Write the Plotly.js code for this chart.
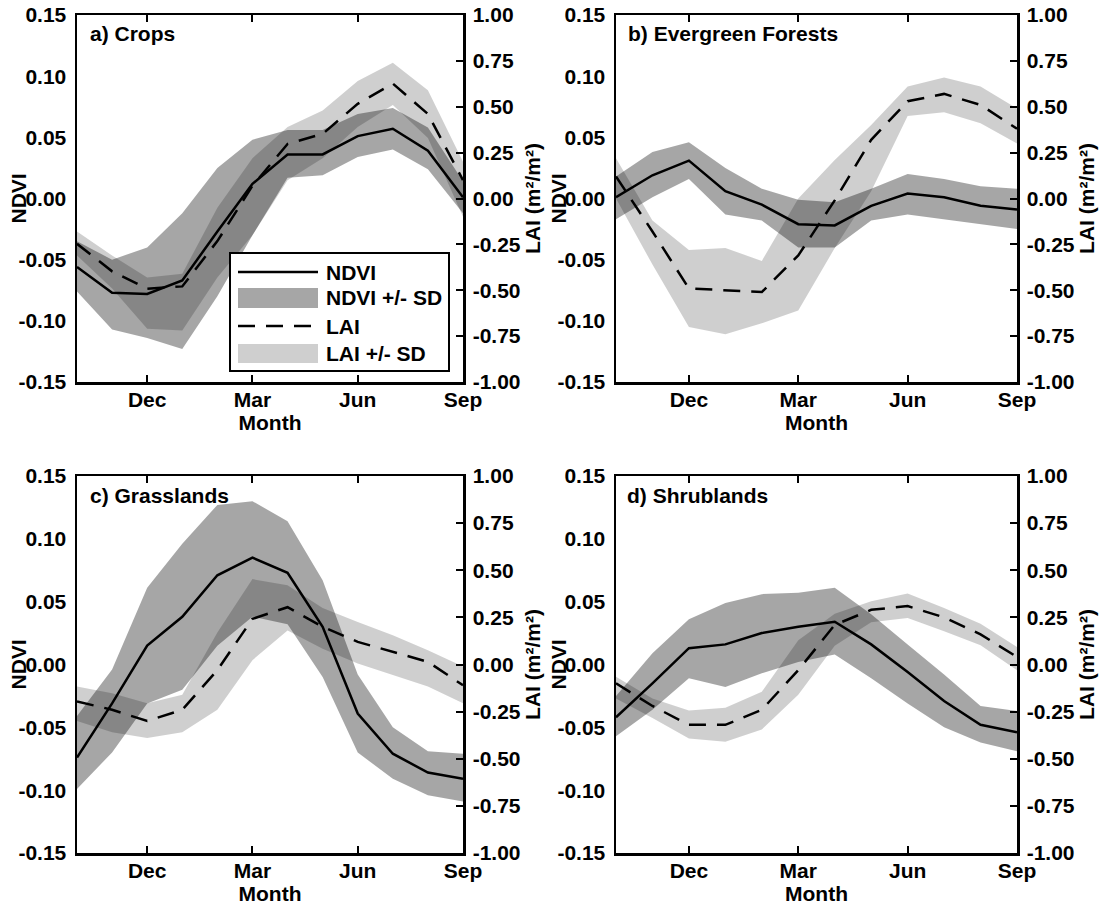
<!DOCTYPE html>
<html>
<head>
<meta charset="utf-8">
<script src="https://cdn.plot.ly/plotly-3.0.1.min.js"></script>
<style>
html,body{margin:0;padding:0;background:#ffffff;}
#chart{width:1103px;height:911px;}
</style>
</head>
<body>
<div id="chart"></div>
<script>
// ---------- data ----------
const months = ['Oct','Nov','Dec','Jan','Feb','Mar','Apr','May','Jun','Jul','Aug','Sep'];
const monthTicks = ['Dec','Mar','Jun','Sep'];
const ndviTickVals = [-0.15,-0.10,-0.05,0.00,0.05,0.10,0.15];
const ndviTickText = ['-0.15','-0.10','-0.05','0.00','0.05','0.10','0.15'];
const laiTickVals = [-1.00,-0.75,-0.50,-0.25,0.00,0.25,0.50,0.75,1.00];
const laiTickText = ['-1.00','-0.75','-0.50','-0.25','0.00','0.25','0.50','0.75','1.00'];
const panelTitles = ['a) Crops','b) Evergreen Forests','c) Grasslands','d) Shrublands'];
const legendLabels = ['NDVI','NDVI +/- SD','LAI','LAI +/- SD'];
const xTitle = 'Month';
const ndviTitle = 'NDVI';
const laiTitle = 'LAI (m²/m²)';

// a) Crops
const cropsNdvi   = [-0.056,-0.077,-0.078,-0.067,-0.027,0.012,0.036,0.036,0.051,0.057,0.039,0.001];
const cropsNdviUp = [-0.035,-0.050,-0.040,-0.012,0.025,0.048,0.056,0.056,0.069,0.074,0.058,0.014];
const cropsNdviLo = [-0.076,-0.107,-0.114,-0.123,-0.080,-0.030,0.017,0.019,0.034,0.040,0.024,-0.012];
const cropsLai    = [-0.247,-0.397,-0.492,-0.479,-0.232,0.069,0.297,0.352,0.516,0.626,0.461,0.100];
const cropsLaiUp  = [-0.18,-0.31,-0.43,-0.41,-0.05,0.22,0.39,0.48,0.64,0.74,0.59,0.20];
const cropsLaiLo  = [-0.31,-0.49,-0.71,-0.72,-0.43,-0.20,0.10,0.22,0.39,0.51,0.33,-0.10];

// b) Evergreen Forests
const everNdvi   = [0.001,0.019,0.031,0.006,-0.005,-0.021,-0.022,-0.006,0.004,0.001,-0.006,-0.009];
const everNdviUp = [0.018,0.038,0.046,0.025,0.008,-0.001,-0.003,0.008,0.020,0.016,0.010,0.008];
const everNdviLo = [-0.017,0.001,0.016,-0.013,-0.018,-0.040,-0.040,-0.018,-0.013,-0.017,-0.021,-0.025];
const everLai    = [0.12,-0.18,-0.49,-0.50,-0.51,-0.31,-0.01,0.32,0.53,0.57,0.51,0.38];
const everLaiUp  = [0.22,-0.12,-0.28,-0.27,-0.34,0.00,0.21,0.40,0.61,0.66,0.61,0.49];
const everLaiLo  = [0.00,-0.36,-0.70,-0.74,-0.68,-0.61,-0.27,0.04,0.45,0.47,0.41,0.30];

// c) Grasslands
const grassNdvi   = [-0.074,-0.031,0.015,0.038,0.071,0.085,0.073,0.030,-0.039,-0.071,-0.086,-0.091];
const grassNdviUp = [-0.041,-0.004,0.061,0.096,0.127,0.130,0.114,0.067,-0.008,-0.050,-0.069,-0.071];
const grassNdviLo = [-0.099,-0.070,-0.031,-0.020,0.015,0.038,0.032,-0.010,-0.070,-0.091,-0.104,-0.109];
const grassLai    = [-0.196,-0.24,-0.30,-0.24,-0.03,0.242,0.304,0.20,0.12,0.067,0.014,-0.11];
const grassLaiUp  = [-0.117,-0.152,-0.205,-0.16,0.17,0.453,0.42,0.30,0.225,0.155,0.076,-0.01];
const grassLaiLo  = [-0.30,-0.36,-0.39,-0.36,-0.24,0.023,0.18,0.084,0.005,-0.056,-0.117,-0.205];

// d) Shrublands
const shrubNdvi   = [-0.042,-0.015,0.013,0.016,0.025,0.030,0.034,0.016,-0.006,-0.029,-0.048,-0.054];
const shrubNdviUp = [-0.025,0.009,0.036,0.049,0.056,0.057,0.061,0.040,0.016,-0.008,-0.033,-0.037];
const shrubNdviLo = [-0.057,-0.036,-0.011,-0.018,-0.007,0.002,0.008,-0.011,-0.031,-0.050,-0.062,-0.069];
const shrubLai    = [-0.10,-0.22,-0.32,-0.32,-0.24,-0.03,0.21,0.29,0.31,0.25,0.16,0.04];
const shrubLaiUp  = [-0.065,-0.18,-0.244,-0.23,-0.144,0.128,0.269,0.335,0.377,0.30,0.216,0.093];
const shrubLaiLo  = [-0.18,-0.284,-0.393,-0.41,-0.345,-0.16,0.10,0.224,0.247,0.177,0.102,-0.03];

// ---------- layout helpers ----------
const W = 1103, H = 911;
const ML = 77, MR = 1103 - 1017, MT = 15, MB = 911 - 853;
const PW = W - ML - MR, PH = H - MT - MB;
const px2x = px => (px - ML) / PW;
const py2y = py => (H - MB - py) / PH;

const ndviFill = 'rgba(0,0,0,0.35)';
const laiFill = 'rgba(0,0,0,0.19)';
const dashStyle = '17px,11px';
const FONT = {family: 'Liberation Sans, Arial, Helvetica, sans-serif', size: 21, color: '#000', weight: 'bold'};

const panels = [
  {ndvi: cropsNdvi, ndviUp: cropsNdviUp, ndviLo: cropsNdviLo, lai: cropsLai, laiUp: cropsLaiUp, laiLo: cropsLaiLo,
   left: 77, right: 463, top: 15, bottom: 382, tx: 88, ty: 33, ndviX: 18},
  {ndvi: everNdvi, ndviUp: everNdviUp, ndviLo: everNdviLo, lai: everLai, laiUp: everLaiUp, laiLo: everLaiLo,
   left: 616, right: 1017, top: 15, bottom: 382, tx: 626, ty: 33, ndviX: 558},
  {ndvi: grassNdvi, ndviUp: grassNdviUp, ndviLo: grassNdviLo, lai: grassLai, laiUp: grassLaiUp, laiLo: grassLaiLo,
   left: 77, right: 463, top: 476, bottom: 853, tx: 88, ty: 495, ndviX: 18},
  {ndvi: shrubNdvi, ndviUp: shrubNdviUp, ndviLo: shrubNdviLo, lai: shrubLai, laiUp: shrubLaiUp, laiLo: shrubLaiLo,
   left: 616, right: 1017, top: 476, bottom: 853, tx: 625, ty: 495, ndviX: 558}
];

const traces = [];
const layout = {
  width: W, height: H,
  margin: {l: ML, r: MR, t: MT, b: MB, pad: 0},
  paper_bgcolor: '#ffffff', plot_bgcolor: 'rgba(0,0,0,0)',
  font: FONT,
  showlegend: false,
  hovermode: false,
  annotations: [],
  shapes: []
};

const loop = months.concat(months.slice().reverse());

panels.forEach((p, i) => {
  const xn = i === 0 ? '' : String(i + 1);
  const xId = 'x' + xn;
  const yIds = [1, 2, 3, 4].map(k => 4 * i + k);
  const yName = n => (n === 1 ? 'y' : 'y' + n);
  const mainY = yName(yIds[0]);

  // bands first, lines on overlays above them
  traces.push({x: loop, y: p.ndviUp.concat(p.ndviLo.slice().reverse()), xaxis: xId, yaxis: yName(yIds[0]),
    type: 'scatter', mode: 'lines', fill: 'toself', fillcolor: ndviFill, line: {width: 0, color: ndviFill}, name: legendLabels[1]});
  traces.push({x: loop, y: p.laiUp.concat(p.laiLo.slice().reverse()), xaxis: xId, yaxis: yName(yIds[1]),
    type: 'scatter', mode: 'lines', fill: 'toself', fillcolor: laiFill, line: {width: 0, color: laiFill}, name: legendLabels[3]});
  traces.push({x: months, y: p.ndvi, xaxis: xId, yaxis: yName(yIds[2]),
    type: 'scatter', mode: 'lines', line: {color: '#000', width: 2.5}, name: legendLabels[0]});
  traces.push({x: months, y: p.lai, xaxis: xId, yaxis: yName(yIds[3]),
    type: 'scatter', mode: 'lines', line: {color: '#000', width: 2.5, dash: dashStyle}, name: legendLabels[2]});

  layout['xaxis' + xn] = {
    domain: [px2x(p.left), px2x(p.right)], anchor: mainY,
    type: 'category', categoryarray: months, range: [0, months.length - 1],
    tickmode: 'array', tickvals: monthTicks, ticktext: monthTicks,
    ticks: 'inside', ticklen: 7, tickwidth: 2, tickcolor: '#000',
    showline: true, linewidth: 2.5, linecolor: '#000', mirror: 'ticks',
    showgrid: false, zeroline: false, fixedrange: true,
    tickfont: FONT, ticklabelstandoff: -3,
    title: {text: xTitle, font: FONT, standoff: 4}
  };
  layout['yaxis' + (yIds[0] === 1 ? '' : yIds[0])] = {
    domain: [py2y(p.bottom), py2y(p.top)], anchor: xId,
    range: [-0.15, 0.15], tickmode: 'array', tickvals: ndviTickVals, ticktext: ndviTickText,
    ticks: '', showline: true, linewidth: 2.5, linecolor: '#000', mirror: false,
    showgrid: false, zeroline: false, fixedrange: true,
    tickfont: FONT, ticklabelstandoff: 4
  };
  layout['yaxis' + yIds[1]] = {
    overlaying: mainY, anchor: xId, side: 'right',
    range: [-1, 1], tickmode: 'array', tickvals: laiTickVals, ticktext: laiTickText,
    ticks: 'inside', ticklen: 7, tickwidth: 2, tickcolor: '#000',
    showline: true, linewidth: 2.5, linecolor: '#000', mirror: false,
    showgrid: false, zeroline: false, fixedrange: true,
    tickfont: FONT, ticklabelstandoff: 3,
    title: {text: laiTitle, font: FONT, standoff: 0}
  };
  layout['yaxis' + yIds[2]] = {overlaying: mainY, anchor: xId, range: [-0.15, 0.15], visible: false,
    showticklabels: false, fixedrange: true};
  layout['yaxis' + yIds[3]] = {overlaying: mainY, anchor: xId, range: [-1, 1], visible: false,
    showticklabels: false, fixedrange: true};

  // panel label
  layout.annotations.push({text: panelTitles[i], xref: 'paper', yref: 'paper', x: px2x(p.tx), y: py2y(p.ty),
    xanchor: 'left', yanchor: 'middle', showarrow: false, font: FONT});
  // NDVI axis title, tight against the tick labels as in the reference
  layout.annotations.push({text: ndviTitle, xref: 'paper', yref: 'paper', x: px2x(p.ndviX), y: py2y((p.top + p.bottom) / 2),
    xanchor: 'center', yanchor: 'middle', textangle: -90, showarrow: false, font: FONT});
});

// ---------- legend (panel a) ----------
const LX0 = 238, LX1 = 318;
layout.shapes.push({type: 'rect', xref: 'paper', yref: 'paper', layer: 'above',
  x0: px2x(230), x1: px2x(449), y0: py2y(371), y1: py2y(253),
  fillcolor: '#ffffff', line: {color: '#000', width: 2}});
layout.shapes.push({type: 'line', xref: 'paper', yref: 'paper', layer: 'above',
  x0: px2x(LX0), x1: px2x(LX1), y0: py2y(272), y1: py2y(272), line: {color: '#000', width: 2.5}});
layout.shapes.push({type: 'rect', xref: 'paper', yref: 'paper', layer: 'above',
  x0: px2x(LX0), x1: px2x(LX1), y0: py2y(308), y1: py2y(288), fillcolor: ndviFill, line: {width: 0}});
layout.shapes.push({type: 'line', xref: 'paper', yref: 'paper', layer: 'above',
  x0: px2x(LX0), x1: px2x(LX1), y0: py2y(326), y1: py2y(326), line: {color: '#000', width: 2.5, dash: dashStyle}});
layout.shapes.push({type: 'rect', xref: 'paper', yref: 'paper', layer: 'above',
  x0: px2x(LX0), x1: px2x(LX1), y0: py2y(363), y1: py2y(344), fillcolor: laiFill, line: {width: 0}});
[272, 298, 326, 353].forEach((py, k) => {
  layout.annotations.push({text: legendLabels[k], xref: 'paper', yref: 'paper', x: px2x(324), y: py2y(py),
    xanchor: 'left', yanchor: 'middle', showarrow: false, font: FONT});
});

Plotly.newPlot('chart', traces, layout, {staticPlot: true, displayModeBar: false});
</script>
</body>
</html>
